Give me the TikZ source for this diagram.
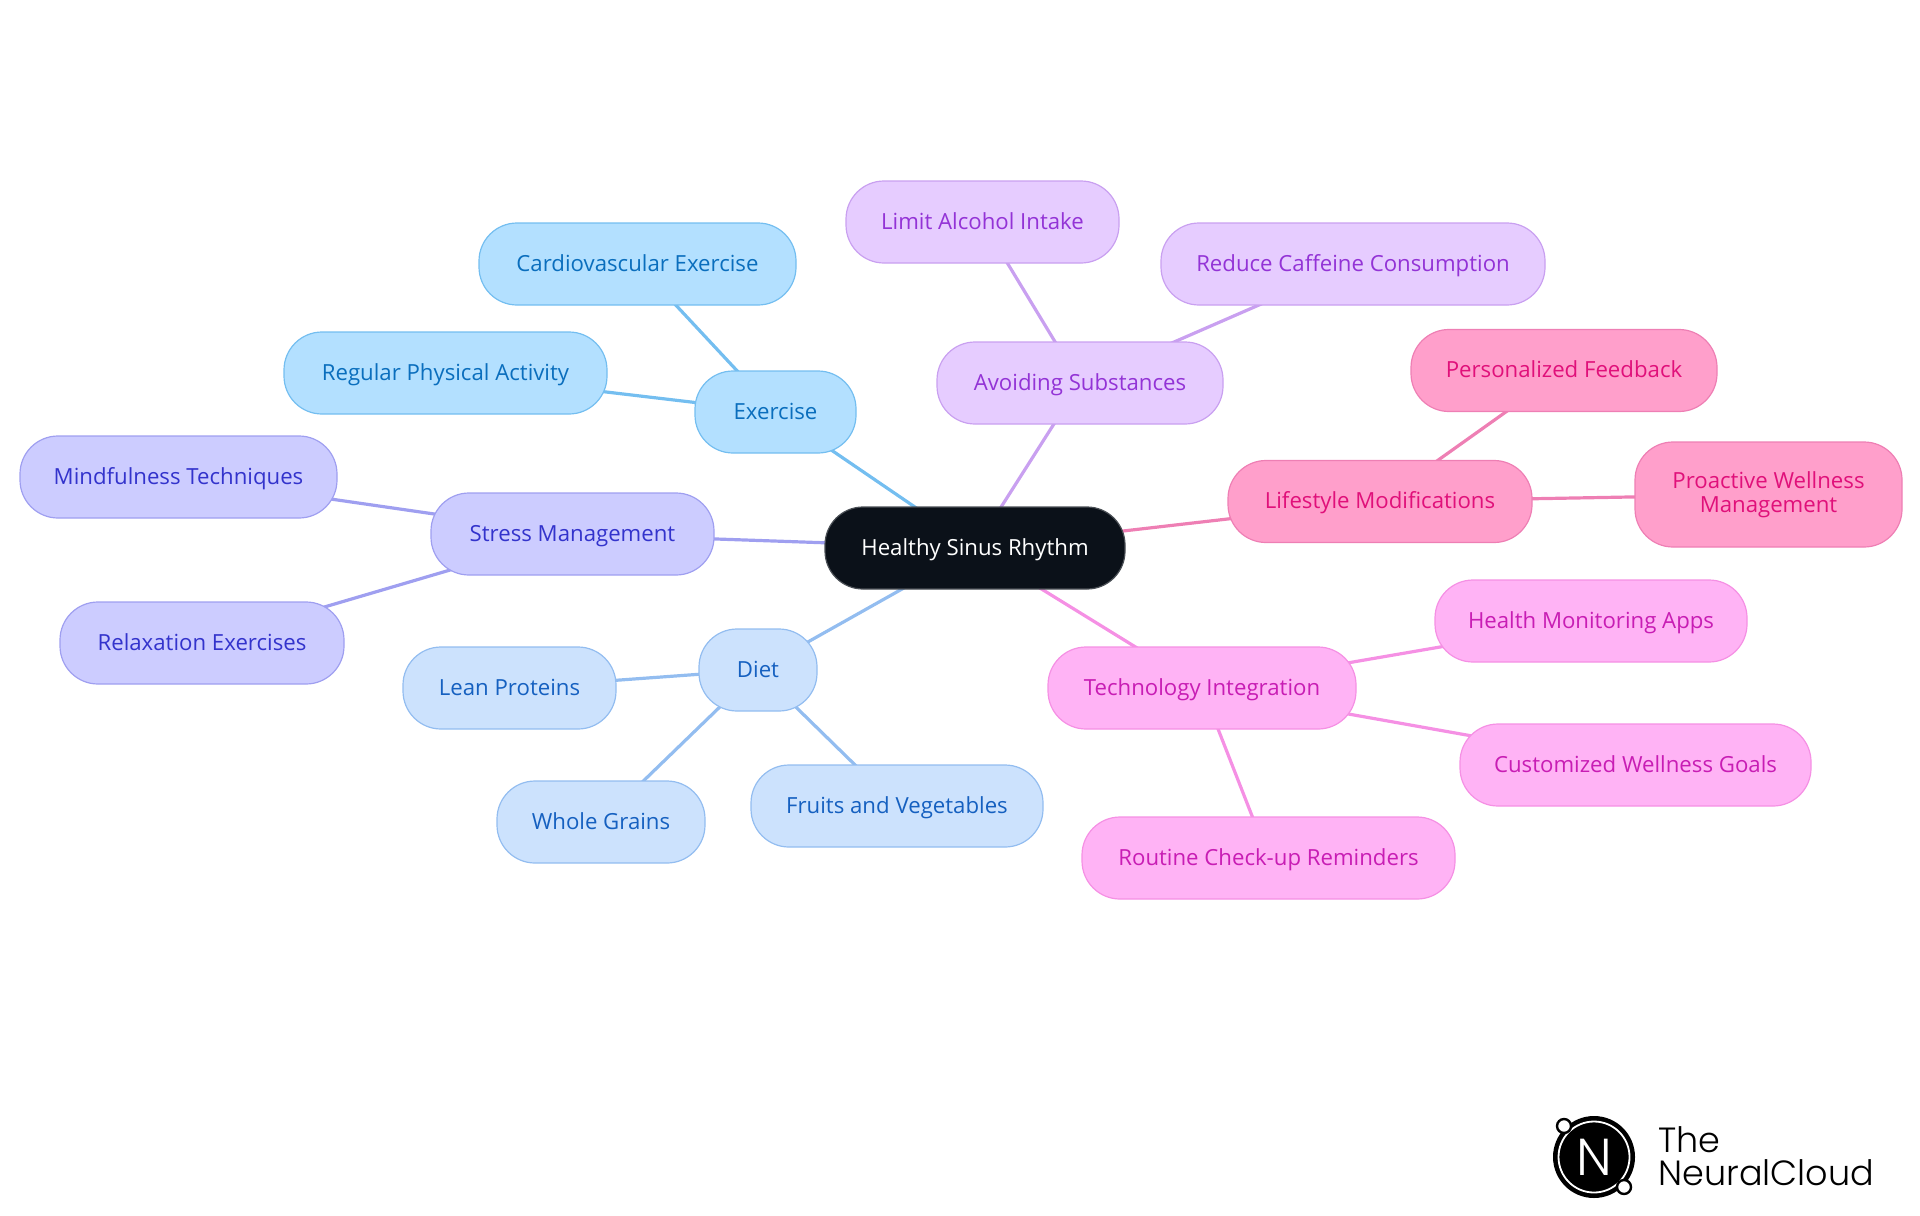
\documentclass[tikz,border=0pt]{standalone}
\usepackage{fontspec}
\setmainfont{Open Sans}
\newfontfamily\logofont{Poppins Light}
\usetikzlibrary{backgrounds}

\definecolor{exFill}{HTML}{B3E0FF}
\definecolor{exLine}{HTML}{74BEF0}
\definecolor{exText}{HTML}{0A6EBD}
\definecolor{dietFill}{HTML}{CCE2FD}
\definecolor{dietLine}{HTML}{93BDF0}
\definecolor{dietText}{HTML}{1560C0}
\definecolor{stressFill}{HTML}{CCCCFF}
\definecolor{stressLine}{HTML}{9F9FF0}
\definecolor{stressText}{HTML}{3333CC}
\definecolor{avoidFill}{HTML}{E6CCFF}
\definecolor{avoidLine}{HTML}{C9A0F0}
\definecolor{avoidText}{HTML}{9333D6}
\definecolor{lifeFill}{HTML}{FF9FCB}
\definecolor{lifeLine}{HTML}{EE7FB4}
\definecolor{lifeText}{HTML}{E0107A}
\definecolor{techFill}{HTML}{FFB3F5}
\definecolor{techLine}{HTML}{F590E4}
\definecolor{techText}{HTML}{C81DB4}
\definecolor{rootFill}{HTML}{0B1119}
\definecolor{rootLine}{HTML}{4A4F55}

\begin{document}
\begin{tikzpicture}[
  x=0.5pt, y=-0.5pt,
  font=\fontsize{11.1}{12.2}\selectfont,
  topic/.style={
    rectangle,
    rounded corners=19pt,
    minimum height=41pt,
    inner sep=0pt,
    text height=8.8pt,
    text depth=1.8pt,
    align=center,
    line width=0.6pt,
  },
  root/.style={topic, fill=rootFill, draw=rootLine, text=white},
  exercise/.style={topic, fill=exFill, draw=exLine, text=exText},
  diet/.style={topic, fill=dietFill, draw=dietLine, text=dietText},
  stress/.style={topic, fill=stressFill, draw=stressLine, text=stressText},
  avoid/.style={topic, fill=avoidFill, draw=avoidLine, text=avoidText},
  life/.style={topic, fill=lifeFill, draw=lifeLine, text=lifeText},
  tech/.style={topic, fill=techFill, draw=techLine, text=techText},
  branch/.style={line width=1.6pt},
]
\useasboundingbox (0,0) rectangle (1920,1215);

% --- Root ---
\node[root, minimum width=150pt] (Sinus) at (975,548) {Healthy Sinus Rhythm};

% --- Exercise ---
\node[exercise, minimum width=80.5pt] (Exercise) at (775.5,412) {Exercise};
\node[exercise, minimum width=158.5pt] (Cardio) at (637.5,264) {Cardiovascular Exercise};
\node[exercise, minimum width=161.5pt] (Regular) at (445.5,373) {Regular Physical Activity};

% --- Stress ---
\node[stress, minimum width=141.5pt] (Stress) at (572.5,534) {Stress Management};
\node[stress, minimum width=158.5pt] (Mindful) at (178.5,477) {Mindfulness Techniques};
\node[stress, minimum width=142pt] (Relax) at (202,643) {Relaxation Exercises};

% --- Diet ---
\node[diet, minimum width=59pt] (Diet) at (758,670) {Diet};
\node[diet, minimum width=106.5pt] (Lean) at (509.5,688) {Lean Proteins};
\node[diet, minimum width=104pt] (Whole) at (601,822) {Whole Grains};
\node[diet, minimum width=146pt] (Fruits) at (897,806) {Fruits and Vegetables};

% --- Avoiding ---
\node[avoid, minimum width=143pt] (Avoid) at (1080,383) {Avoiding Substances};
\node[avoid, minimum width=136.5pt] (Alcohol) at (982.5,222) {Limit Alcohol Intake};
\node[avoid, minimum width=192pt] (Caffeine) at (1353,264) {Reduce Caffeine Consumption};

% --- Lifestyle ---
\node[life, minimum width=152pt] (Lifestyle) at (1380,501.5) {Lifestyle Modifications};
\node[life, minimum width=153pt] (Feedback) at (1564,370.5) {Personalized Feedback};
\node[life, minimum width=133.5pt, minimum height=52.5pt, text height=, text depth=] (Proactive) at (1768.5,494.5) {Proactive Wellness\\Management};

% --- Technology ---
\node[tech, minimum width=154pt] (Tech) at (1202,688) {Technology Integration};
\node[tech, minimum width=156pt] (Apps) at (1591,621) {Health Monitoring Apps};
\node[tech, minimum width=175.5pt] (Goals) at (1635.5,765) {Customized Wellness Goals};
\node[tech, minimum width=186.5pt] (Routine) at (1268.5,858) {Routine Check-up Reminders};

% Branches sit behind the boxes and run centre to centre
\begin{scope}[on background layer]
\foreach \from/\to/\col in {
  Sinus/Exercise/exLine, Exercise/Cardio/exLine, Exercise/Regular/exLine,
  Sinus/Stress/stressLine, Stress/Mindful/stressLine, Stress/Relax/stressLine,
  Sinus/Diet/dietLine, Diet/Lean/dietLine, Diet/Whole/dietLine, Diet/Fruits/dietLine,
  Sinus/Avoid/avoidLine, Avoid/Alcohol/avoidLine, Avoid/Caffeine/avoidLine,
  Sinus/Lifestyle/lifeLine, Lifestyle/Feedback/lifeLine, Lifestyle/Proactive/lifeLine,
  Sinus/Tech/techLine, Tech/Apps/techLine, Tech/Goals/techLine, Tech/Routine/techLine}
  \draw[branch, \col] (\from.center) -- (\to.center);
\end{scope}

% --- Logo ---
\node[circle, fill=black, minimum size=41pt, inner sep=0pt] (LogoDisc) at (1594,1157) {};
\node[circle, draw=white, line width=0.9pt, minimum size=35.5pt, inner sep=0pt] (LogoRing) at (LogoDisc.center) {};
\node[text=white, font=\logofont\fontsize{26}{26}\selectfont] (LogoN) at (LogoDisc.center) {N};
\node[circle, fill=white, draw=black, line width=1.2pt, minimum size=7pt, inner sep=0pt] (LogoA) at (1564,1126) {};
\node[circle, fill=white, draw=black, line width=1.2pt, minimum size=7pt, inner sep=0pt] (LogoB) at (1624,1187) {};
\node[anchor=base west, inner sep=0pt, font=\logofont\fontsize{17.5}{18}\selectfont] (LogoThe) at (1658,1152) {The};
\node[anchor=base west, inner sep=0pt, font=\logofont\fontsize{17.5}{18}\selectfont] (LogoName) at (1658,1185) {NeuralCloud};
\end{tikzpicture}
\end{document}
